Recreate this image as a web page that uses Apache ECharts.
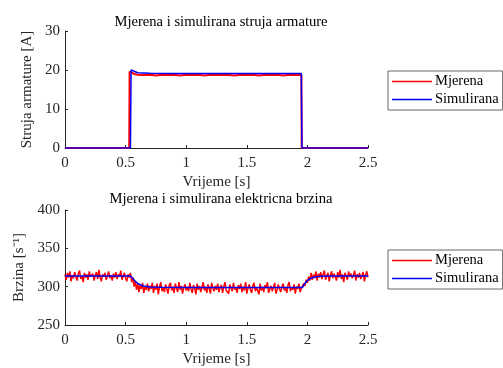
<!DOCTYPE html>
<html>
<head>
<meta charset="utf-8">
<script src="https://cdn.jsdelivr.net/npm/echarts@6/dist/echarts.min.js"></script>
<style>
  html, body { margin: 0; padding: 0; background: #fff; }
  #main { width: 503px; height: 368px; }
</style>
</head>
<body>
<div id="main"></div>
<script>
// struja armature [t, A]
var currentMeasured = [
  [0, 0], [0.53, 0], [0.533, 19.6], [0.54, 19.5], [0.55, 19.3], [0.56, 19.1], [0.58, 18.9],
  [0.6, 18.8], [0.65, 18.7], [0.7, 18.8], [0.75, 18.6], [0.8, 18.8], [0.85, 18.7], [0.9, 18.8],
  [0.95, 18.6], [1.0, 18.8], [1.05, 18.7], [1.1, 18.8], [1.15, 18.6], [1.2, 18.8], [1.25, 18.7],
  [1.3, 18.8], [1.35, 18.7], [1.4, 18.6], [1.45, 18.8], [1.5, 18.7], [1.55, 18.8], [1.6, 18.6],
  [1.65, 18.8], [1.7, 18.7], [1.75, 18.8], [1.8, 18.6], [1.85, 18.8], [1.9, 18.7], [1.95, 18.7],
  [1.953, 0], [2.5, 0]
];
var currentSimulated = [
  [0, 0], [0.54, 0], [0.545, 20.0], [0.56, 19.6], [0.6, 19.3], [0.7, 19.15], [0.9, 19.1],
  [1.95, 19.1], [1.955, 0], [2.5, 0]
];

// brzina, mjerena svakih 0.01 s
var speedStep = 0.01;
var speedMeasured = [
  316,309,318,312,320,307,315,311,319,313,
  308,317,321,310,314,306,318,312,316,309,
  320,313,311,317,308,315,319,310,322,312,
  307,316,313,318,309,314,320,311,315,308,
  317,312,319,310,316,313,321,309,314,318,
  311,307,316,312,
  318,306,312,300,307,296,304,293,302,297,305,292,300,296,304,294,301,
  297,305,292,301,296,304,290,300,306,294,
  299,293,303,297,291,302,305,295,300,292,
  304,298,293,306,296,301,291,299,303,295,
  300,294,305,297,292,302,298,290,304,296,
  301,293,299,306,295,300,292,303,297,291,
  305,298,294,301,296,304,293,299,302,292,
  300,306,295,297,291,303,298,294,305,296,
  299,292,302,297,304,293,300,295,306,291,
  298,303,296,292,301,305,294,299,297,290,
  304,295,300,293,302,298,306,292,297,301,
  294,299,305,291,296,303,297,293,300,304,
  295,298,292,302,306,294,299,296,303,291,
  300,297,304,293,298,
  296,304,301,309,305,313,308,318,309,316,311,320,308,317,312,319,310,
  316,321,309,314,318,307,315,320,311,317,
  313,308,319,312,322,310,316,306,318,314,
  309,320,313,317,311,315,321,308,316,312,
  318,310,314,319,307,315,320,312
];
var speedSimulated = [
  [0, 314], [0.54, 314], [0.55, 312.5], [0.56, 310.5], [0.58, 307], [0.6, 304.3], [0.62, 302.5],
  [0.65, 300.8], [0.7, 299.6], [0.8, 299.1], [1.0, 299], [1.96, 299], [1.97, 301.5],
  [1.98, 304.5], [2.0, 308], [2.02, 310.3], [2.05, 312.2], [2.1, 313.5], [2.2, 314], [2.5, 314]
];

var xTicks = { min: 0, max: 2.5, interval: 0.5 };
var currentTicks = { min: 0, max: 30, interval: 10 };
var speedTicks = { min: 250, max: 400, interval: 50 };

var speedMeasuredXY = speedMeasured.map(function (v, i) {
  return [+(i * speedStep).toFixed(2), v];
});

var font = 'Liberation Serif';
var ink = '#262626';

function xAxis(idx) {
  return {
    type: 'value', gridIndex: idx,
    min: xTicks.min, max: xTicks.max, interval: xTicks.interval,
    name: 'Vrijeme [s]', nameLocation: 'middle', nameGap: 27,
    nameTextStyle: { fontFamily: font, fontSize: 15, color: ink },
    axisLine: { lineStyle: { color: ink, width: 1 } },
    axisTick: { inside: true, length: 3, lineStyle: { color: ink } },
    axisLabel: { fontFamily: font, fontSize: 15, color: ink, margin: 8 },
    splitLine: { show: false }
  };
}
function yAxis(idx, ticks, name, gap) {
  return {
    type: 'value', gridIndex: idx,
    min: ticks.min, max: ticks.max, interval: ticks.interval,
    name: name, nameLocation: 'middle', nameGap: gap,
    nameTextStyle: { fontFamily: font, fontSize: 15, color: ink },
    axisLine: { show: true, lineStyle: { color: ink, width: 1 } },
    axisTick: { show: true, inside: true, length: 3, lineStyle: { color: ink } },
    axisLabel: { fontFamily: font, fontSize: 15, color: ink, margin: 5 },
    splitLine: { show: false }
  };
}
function legend(top) {
  return {
    orient: 'vertical', left: 388, top: top,
    data: [
      { name: 'Mjerena', itemStyle: { color: '#ff0000' } },
      { name: 'Simulirana', itemStyle: { color: '#0000ff' } }
    ],
    icon: 'rect', itemWidth: 40, itemHeight: 1.5, itemGap: 3,
    borderColor: '#666', borderWidth: 1, padding: [3, 4, 3, 4],
    textStyle: { fontFamily: font, fontSize: 14.5, color: '#000', padding: [0, 0, 0, -2] },
    selectedMode: false
  };
}

var chart = echarts.init(document.getElementById('main'));
chart.setOption({
  animation: false,
  title: [
    { text: 'Mjerena i simulirana struja armature', left: 216, top: 10, textAlign: 'center',
      textStyle: { fontFamily: font, fontSize: 14.6, fontWeight: 'normal', color: '#000' } },
    { text: 'Mjerena i simulirana elektricna brzina', left: 216, top: 187, textAlign: 'center',
      textStyle: { fontFamily: font, fontSize: 14.6, fontWeight: 'normal', color: '#000' } }
  ],
  legend: [legend(71), legend(250)],
  grid: [
    { left: 65, right: 135, top: 31, height: 117 },
    { left: 65, right: 135, top: 210, height: 117 }
  ],
  xAxis: [xAxis(0), xAxis(1)],
  yAxis: [
    yAxis(0, currentTicks, 'Struja armature [A]', 25),
    yAxis(1, speedTicks, 'Brzina [s\u207B\u00B9]', 27)
  ],
  series: [
    { name: 'Mjerena', type: 'line', xAxisIndex: 0, yAxisIndex: 0, data: currentMeasured,
      showSymbol: false, color: '#ff0000', lineStyle: { width: 2 } },
    { name: 'Simulirana', type: 'line', xAxisIndex: 0, yAxisIndex: 0, data: currentSimulated,
      showSymbol: false, color: '#0000ff', lineStyle: { width: 1.5 } },
    { name: 'Mjerena', type: 'line', xAxisIndex: 1, yAxisIndex: 1, data: speedMeasuredXY,
      showSymbol: false, color: '#ff0000', lineStyle: { width: 1.5 } },
    { name: 'Simulirana', type: 'line', xAxisIndex: 1, yAxisIndex: 1, data: speedSimulated,
      showSymbol: false, color: '#0000ff', lineStyle: { width: 1.5 } }
  ]
});
</script>
</body>
</html>
